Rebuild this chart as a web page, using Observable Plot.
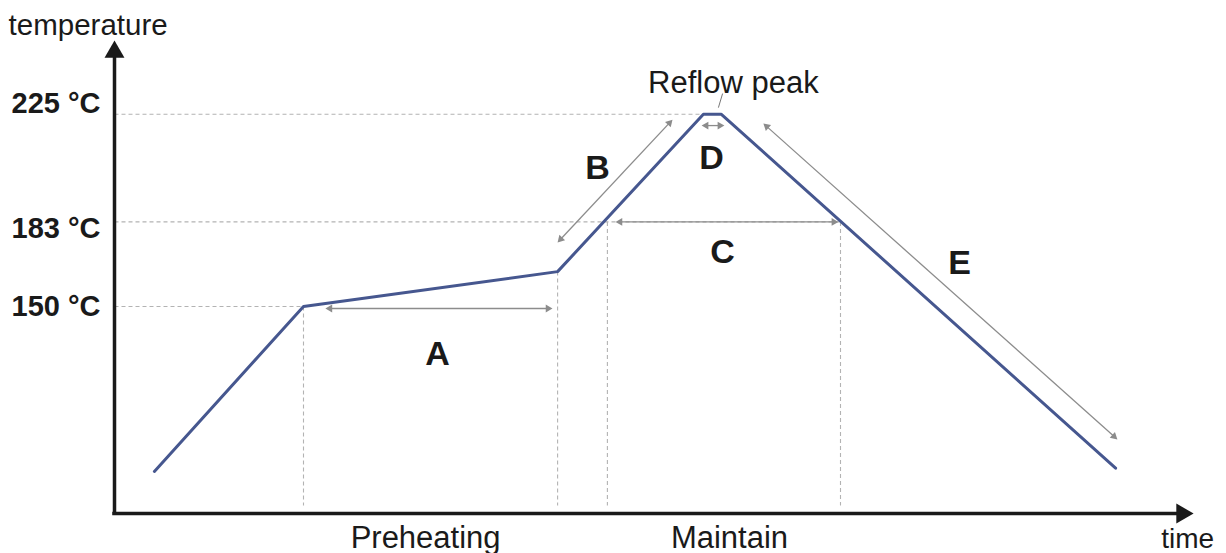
<!DOCTYPE html>
<html>
<head>
<meta charset="utf-8">
<script src="https://cdn.jsdelivr.net/npm/d3@7"></script>
<script src="https://cdn.jsdelivr.net/npm/@observablehq/plot@0.6"></script>
<style>
  body { margin: 0; background: #fff; }
  #chart svg { display: block; }
</style>
</head>
<body>
<div id="chart"></div>
<script>
// ---- data (time in arbitrary units, temperature in °C) ----
const profileTime = [13.3, 63, 147.7, 196.3, 202.3, 333.7];
const profileTemp = [85.6, 150, 163.6, 225, 225, 86.9];

const tickTemps  = [225, 183, 150];
const tickLabels = ["225 °C", "183 °C", "150 °C"];

// horizontal guides: temperature, end time
const hGuideTemp = [225, 183, 150];
const hGuideEnd  = [196.3, 242, 63];
// vertical guides: time, top temperature
const vGuideTime = [63, 147.7, 164.3, 242];
const vGuideTop  = [150, 163.6, 183, 183];
const guideBottom = 72.3;

// dimension arrows A..E (double-headed)
const zoneNames = ["A", "B", "C", "D", "E"];
const zoneT1 = [70.3, 147.7, 167, 195.7, 216.3];
const zoneY1 = [149.2, 175, 183, 220.6, 221.4];
const zoneT2 = [146, 186, 241.3, 203.3, 334.3];
const zoneY2 = [149.2, 222.9, 183, 220.6, 98.1];
const zoneLabelT = [107.7, 161, 202.7, 199, 281.7];
const zoneLabelY = [127.3, 199.9, 167.1, 203.8, 162.8];

const phaseNames = ["Preheating", "Maintain"];
const phaseT = [103.7, 205];

const T_MIN = 69.2, T_MAX = 253.8, X_MAX = 360, X_TIP = 359.7;

// ---- layout ----
const W = 1226, H = 553, ML = 114, MR = 32, MT = 40, MB = 40;
const kx = (W - ML - MR) / X_MAX;          // px per time unit
const ky = (H - MT - MB) / (T_MAX - T_MIN); // px per °C

// arrowhead (rotated triangle dot) placed so that its tip lies at (t2, y2)
function head(t1, y1, t2, y2, r) {
  const dx = (t2 - t1) * kx, dy = -(y2 - y1) * ky;
  const len = Math.hypot(dx, dy), ux = dx / len, uy = dy / len;
  const tip = 2 * Math.sqrt(Math.PI * r * r / (3 * Math.sqrt(3)));
  return {t: t2 - tip * ux / kx, T: y2 + tip * uy / ky, rot: Math.atan2(dx, -dy) * 180 / Math.PI,
          st: t2 - tip * 1.2 * ux / kx, sT: y2 + tip * 1.2 * uy / ky};
}

const profile = profileTime.map((t, i) => ({t, T: profileTemp[i]}));
const hGuides = hGuideTemp.map((T, i) => ({T, t2: hGuideEnd[i]}));
const vGuides = vGuideTime.map((t, i) => ({t, T2: vGuideTop[i]}));
const zones = zoneNames.map((n, i) => ({n, t1: zoneT1[i], y1: zoneY1[i], t2: zoneT2[i], y2: zoneY2[i], lt: zoneLabelT[i], ly: zoneLabelY[i]}));
const R_DIM = 2.9, R_AX = 7.4;
const dimHeads = [], dimShafts = [];
zones.forEach(z => {
  const a = head(z.t1, z.y1, z.t2, z.y2, R_DIM);
  const b = head(z.t2, z.y2, z.t1, z.y1, R_DIM);
  dimHeads.push(a, b);
  dimShafts.push({t1: b.st, y1: b.sT, t2: a.st, y2: a.sT});
});
const yHead = head(0, T_MIN, 0, T_MAX, R_AX);
const xHead = head(0, T_MIN, X_TIP, T_MIN, R_AX);
const axisHeads = [yHead, xHead];

const FONT = "'Liberation Sans', Arial, Helvetica, sans-serif";
const tickDy = {225: -1, 183: 16, 150: 10};

const plot = Plot.plot({
  width: W, height: H,
  marginLeft: ML, marginRight: MR, marginTop: MT, marginBottom: MB,
  style: {background: "#fff", fontFamily: FONT, overflow: "visible"},
  x: {domain: [0, X_MAX], axis: null},
  y: {domain: [T_MIN, T_MAX], axis: null},
  marks: [
    // dashed guides
    Plot.link(hGuides, {x1: 0, x2: "t2", y1: "T", y2: "T", stroke: "#b3b3b3", strokeWidth: 1.1, strokeDasharray: "4,3"}),
    Plot.link(vGuides, {x1: "t", x2: "t", y1: "T2", y2: guideBottom, stroke: "#b3b3b3", strokeWidth: 1.1, strokeDasharray: "4,3"}),
    // dimension arrows
    Plot.link(dimShafts, {x1: "t1", y1: "y1", x2: "t2", y2: "y2", stroke: "#8c8c8c", strokeWidth: 1.3}),
    Plot.dot(dimHeads, {x: "t", y: "T", rotate: "rot", symbol: "triangle", r: R_DIM, fill: "#8c8c8c", stroke: "none"}),
    // reflow peak leader
    Plot.link([{a: 202.7, b: 233.1, c: 201.3, d: 227.6}], {x1: "a", y1: "b", x2: "c", y2: "d", stroke: "#777", strokeWidth: 1}),
    // profile
    Plot.line(profile, {x: "t", y: "T", stroke: "#46578f", strokeWidth: 3, strokeLinejoin: "miter"}),
    // axes
    Plot.ruleX([0], {y1: T_MIN - 1.75 / ky, y2: yHead.T, stroke: "#1a1a1a", strokeWidth: 3.5}),
    Plot.ruleY([T_MIN], {x1: -1.75 / kx, x2: xHead.t, stroke: "#1a1a1a", strokeWidth: 3.5}),
    Plot.dot(axisHeads, {x: "t", y: "T", rotate: "rot", symbol: "triangle", r: R_AX, fill: "#1a1a1a", stroke: "none"}),
    // zone letters
    Plot.text(zones, {x: "lt", y: "ly", text: "n", lineAnchor: "bottom", fontSize: 34, fontWeight: "bold", fill: "#1a1a1a"}),
    // tick labels
    ...tickTemps.map((T, i) => Plot.text([{T, s: tickLabels[i]}], {x: -4.67, y: "T", text: "s", textAnchor: "end", lineAnchor: "bottom", dy: tickDy[T], fontSize: 29, fontWeight: "bold", fill: "#1a1a1a"})),
    // phase labels
    Plot.text(phaseNames.map((n, i) => ({n, t: phaseT[i]})), {x: "t", y: 55.9, text: "n", lineAnchor: "bottom", fontSize: 31, fill: "#1a1a1a"}),
    Plot.text([{s: "Reflow peak"}], {x: 206.3, y: 233.5, text: "s", lineAnchor: "bottom", fontSize: 31, fill: "#1a1a1a"}),
    Plot.text([{s: "time"}], {x: 357.7, y: 55.9, text: "s", lineAnchor: "bottom", fontSize: 28, fill: "#1a1a1a"}),
    Plot.text([{s: "temperature"}], {x: -35.3, y: 256.1, text: "s", textAnchor: "start", lineAnchor: "bottom", fontSize: 29.5, fill: "#1a1a1a"})
  ]
});

document.getElementById("chart").appendChild(plot);
</script>
</body>
</html>
